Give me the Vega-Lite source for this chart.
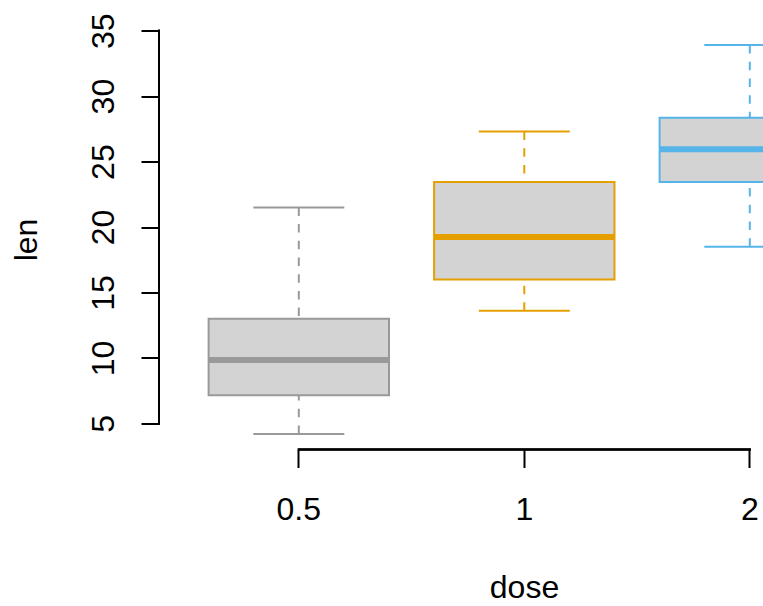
{
  "$schema": "https://vega.github.io/schema/vega-lite/v6.json",
  "autosize": {"type": "none"},
  "padding": {"left": 159, "top": 29.5, "right": 0, "bottom": 156.5},
  "width": 604,
  "height": 420,
  "background": "white",
  "config": {
    "view": {"stroke": null},
    "font": "Liberation Sans",
    "axis": {"labelFont": "Liberation Sans", "titleFont": "Liberation Sans", "labelColor": "black", "titleColor": "black", "titleFontWeight": "normal"}
  },
  "data": {
    "values": [
      {"dose": "0.5", "lower": 4.2, "q1": 7.15, "median": 9.85, "q3": 13.0, "upper": 21.5},
      {"dose": "1", "lower": 13.6, "q1": 16.0, "median": 19.25, "q3": 23.45, "upper": 27.3},
      {"dose": "2", "lower": 18.5, "q1": 23.45, "median": 25.95, "q3": 28.35, "upper": 33.9}
    ]
  },
  "encoding": {
    "x": {
      "field": "dose", "type": "nominal",
      "scale": {"domain": ["0.5", "1", "2"], "range": [0, 730.6], "paddingInner": 0.2, "paddingOuter": 0.22},
      "axis": {
        "domain": false, "tickSize": 18, "tickWidth": 2, "tickColor": "black",
        "labelFontSize": 32, "labelAngle": 0, "labelBaseline": "alphabetic", "labelPadding": 51.5,
        "title": "dose", "titleFontSize": 32, "titleBaseline": "alphabetic", "titleX": 365, "titleY": 147.5
      }
    }
  },
  "layer": [
    {
      "mark": {"type": "rule", "clip": true, "strokeWidth": 2, "strokeDash": [8.5, 8.2], "opacity": 1},
      "encoding": {
        "y": {"field": "lower", "type": "quantitative",
          "scale": {"domain": [3.012, 35.088], "nice": false, "zero": false},
          "axis": {
            "domain": false, "values": [5, 10, 15, 20, 25, 30, 35], "tickSize": 18, "tickWidth": 2, "tickColor": "black", "grid": false,
            "labelFontSize": 32, "labelAngle": 270, "labelAlign": "center", "labelBaseline": "alphabetic", "labelPadding": 28,
            "title": "len", "titleFontSize": 32, "titleAngle": 270, "titleAlign": "center", "titleBaseline": "alphabetic", "titleX": -123, "titleY": 210
          }
        },
        "y2": {"field": "q1"},
        "stroke": {"field": "dose", "type": "nominal", "scale": {"domain": ["0.5", "1", "2"], "range": ["#999999", "#E69F00", "#56B4E9"]}, "legend": null}
      }
    },
    {
      "mark": {"type": "rule", "clip": true, "strokeWidth": 2, "strokeDash": [8.5, 8.2], "opacity": 1},
      "encoding": {
        "y": {"field": "upper", "type": "quantitative"},
        "y2": {"field": "q3"},
        "stroke": {"field": "dose", "type": "nominal", "scale": {"domain": ["0.5", "1", "2"], "range": ["#999999", "#E69F00", "#56B4E9"]}, "legend": null}
      }
    },
    {
      "mark": {"type": "tick", "clip": true, "size": 91, "thickness": 2, "opacity": 1},
      "encoding": {
        "y": {"field": "lower", "type": "quantitative"},
        "color": {"field": "dose", "type": "nominal", "scale": {"domain": ["0.5", "1", "2"], "range": ["#999999", "#E69F00", "#56B4E9"]}, "legend": null}
      }
    },
    {
      "mark": {"type": "tick", "clip": true, "size": 91, "thickness": 2, "opacity": 1},
      "encoding": {
        "y": {"field": "upper", "type": "quantitative"},
        "color": {"field": "dose", "type": "nominal", "scale": {"domain": ["0.5", "1", "2"], "range": ["#999999", "#E69F00", "#56B4E9"]}, "legend": null}
      }
    },
    {
      "mark": {"type": "bar", "clip": true, "fill": "#D3D3D3", "strokeWidth": 2, "opacity": 1, "fillOpacity": 1},
      "encoding": {
        "y": {"field": "q1", "type": "quantitative"},
        "y2": {"field": "q3"},
        "stroke": {"field": "dose", "type": "nominal", "scale": {"domain": ["0.5", "1", "2"], "range": ["#999999", "#E69F00", "#56B4E9"]}, "legend": null}
      }
    },
    {
      "mark": {"type": "tick", "clip": true, "size": 181, "thickness": 6, "opacity": 1},
      "encoding": {
        "y": {"field": "median", "type": "quantitative"},
        "color": {"field": "dose", "type": "nominal", "scale": {"domain": ["0.5", "1", "2"], "range": ["#999999", "#E69F00", "#56B4E9"]}, "legend": null}
      }
    },
    {
      "mark": {"type": "rule", "color": "black", "strokeWidth": 2, "strokeCap": "square"},
      "encoding": {
        "x": {"datum": "0.5", "bandPosition": 0.5},
        "x2": {"datum": "2", "bandPosition": 0.5},
        "y": {"datum": 3.012}
      }
    },
    {
      "mark": {"type": "rule", "color": "black", "strokeWidth": 2, "strokeCap": "square"},
      "encoding": {
        "x": {"datum": "0.5", "bandPosition": -0.275},
        "y": {"datum": 5},
        "y2": {"datum": 35}
      }
    }
  ]
}
